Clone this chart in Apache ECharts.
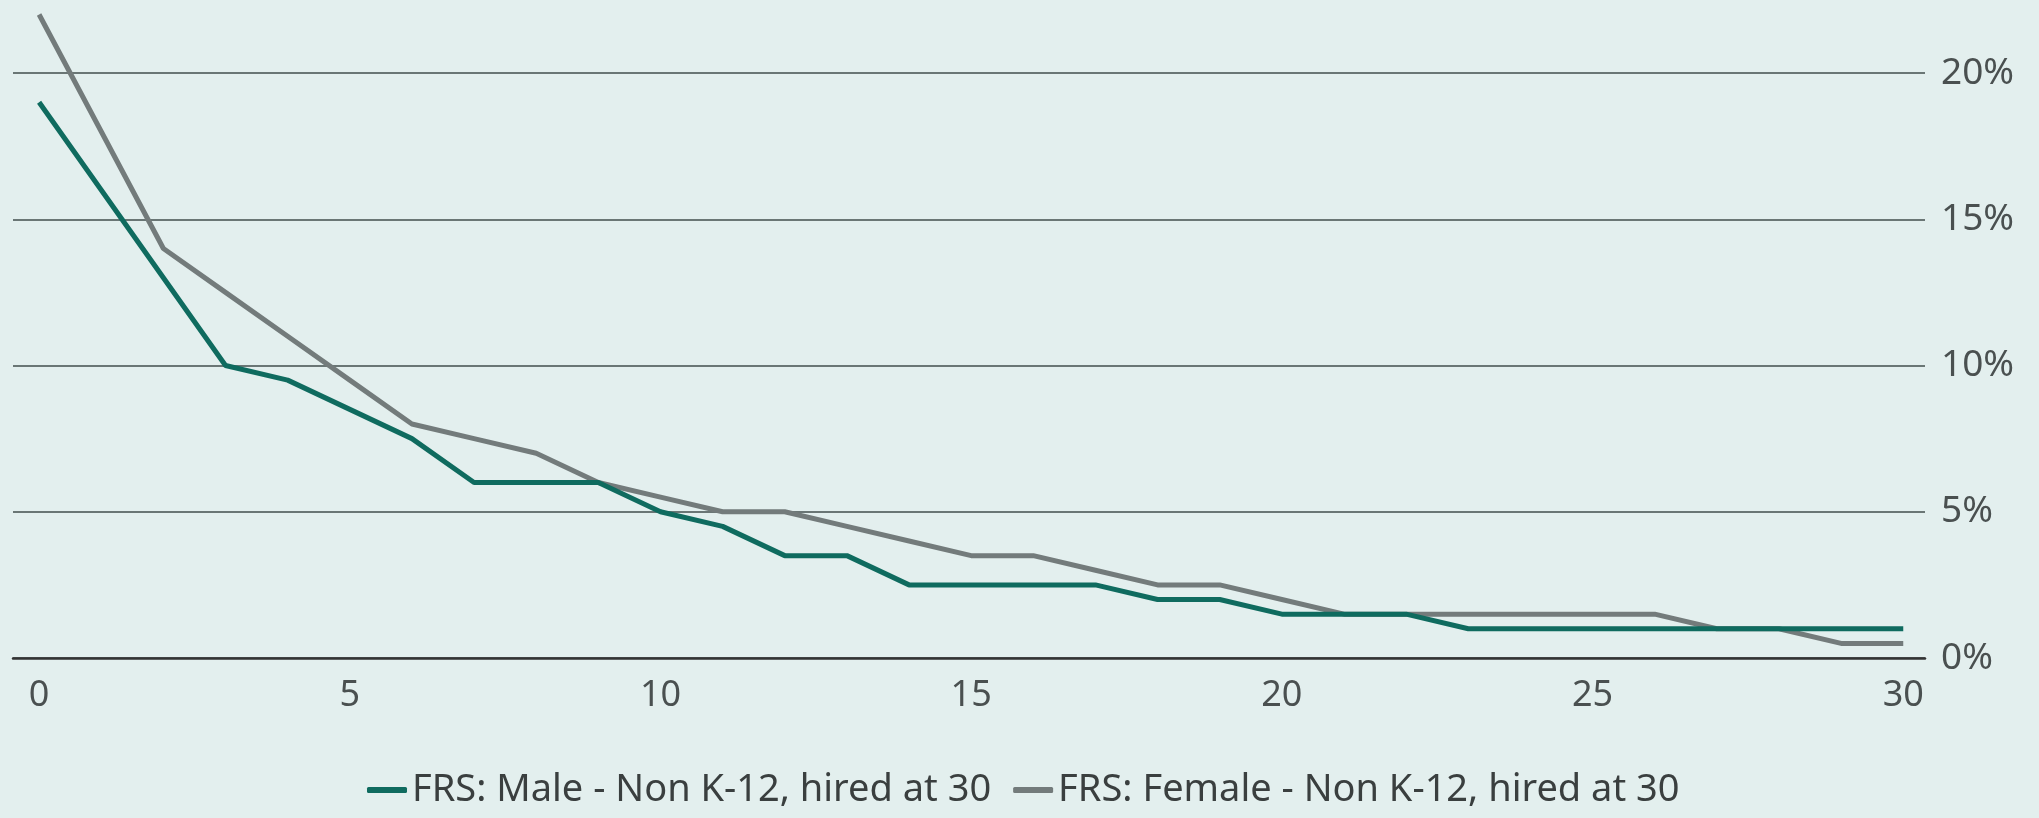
<!DOCTYPE html>
<html>
  <head>
    <meta http-equiv="Content-Type" content="text/html; charset=UTF-8">
    <title>FRS withdrawal rates</title>
    <style type="text/css">
      body {
        margin: 0;
        padding: 0;
        background-color: #e3efee;
      }
      #main {
        width: 2039px;
        height: 818px;
      }
    </style>
  </head>
  <body>
    <div id="main"></div>
    <script src="https://cdn.jsdelivr.net/npm/echarts@6/dist/echarts.min.js" type="text/javascript" charset="utf-8"></script>
    <script type="text/javascript">
        // years of service 0..30
        var years = [];
        for (var i = 0; i <= 30; i++) years.push(i);

        var xTicks = [0, 5, 10, 15, 20, 25, 30];

        // percent values
        var male = [19, 16, 13, 10, 9.5, 8.5, 7.5, 6, 6, 6, 5, 4.5, 3.5, 3.5, 2.5, 2.5,
                    2.5, 2.5, 2, 2, 1.5, 1.5, 1.5, 1, 1, 1, 1, 1, 1, 1, 1];
        var female = [22, 18, 14, 12.5, 11, 9.5, 8, 7.5, 7, 6, 5.5, 5, 5, 4.5, 4, 3.5,
                      3.5, 3, 2.5, 2.5, 2, 1.5, 1.5, 1.5, 1.5, 1.5, 1.5, 1, 1, 0.5, 0.5];

        var seriesNames = ['FRS: Male - Non K-12, hired at 30', 'FRS: Female - Non K-12, hired at 30'];
        var colors = ['#0f6b5f', '#737b7b'];

        function pairs(arr) {
            return arr.map(function (v, i) { return [years[i], v]; });
        }

        var font = '"Noto Sans", sans-serif';

        var myChart = echarts.init(document.getElementById('main'));
        var option = {
            backgroundColor: '#e3efee',
            animation: false,
            color: colors,
            grid: {
                left: 13,
                right: 114,
                top: 73,
                bottom: 160
            },
            legend: {
                bottom: 4,
                left: 362,
                icon: 'roundRect',
                itemWidth: 40,
                itemHeight: 6,
                itemGap: 22,
                textStyle: {
                    fontFamily: font,
                    fontSize: 38,
                    color: '#3a3f3f'
                },
                data: seriesNames
            },
            xAxis: {
                type: 'value',
                min: -0.42,
                max: 30.35,
                splitLine: { show: false },
                axisTick: { show: false },
                axisLine: {
                    show: true,
                    lineStyle: { color: '#333333', width: 2.5 }
                },
                axisLabel: {
                    customValues: xTicks,
                    margin: 20,
                    fontFamily: font,
                    fontSize: 36,
                    color: '#4a5050'
                }
            },
            yAxis: {
                type: 'value',
                position: 'right',
                min: 0,
                max: 20,
                interval: 5,
                axisLine: { show: false },
                axisTick: { show: false },
                splitLine: {
                    lineStyle: { color: '#6a7675', width: 2 }
                },
                axisLabel: {
                    margin: 16,
                    fontFamily: font,
                    fontSize: 37,
                    color: '#4a5050',
                    formatter: '{value}%'
                }
            },
            series: [{
                name: seriesNames[0],
                type: 'line',
                clip: false,
                showSymbol: false,
                lineStyle: { width: 5, color: colors[0] },
                data: pairs(male),
                z: 3
            }, {
                name: seriesNames[1],
                type: 'line',
                clip: false,
                showSymbol: false,
                lineStyle: { width: 5, color: colors[1] },
                data: pairs(female),
                z: 2
            }]
        };
        myChart.setOption(option);
    </script>
  </body>
</html>
